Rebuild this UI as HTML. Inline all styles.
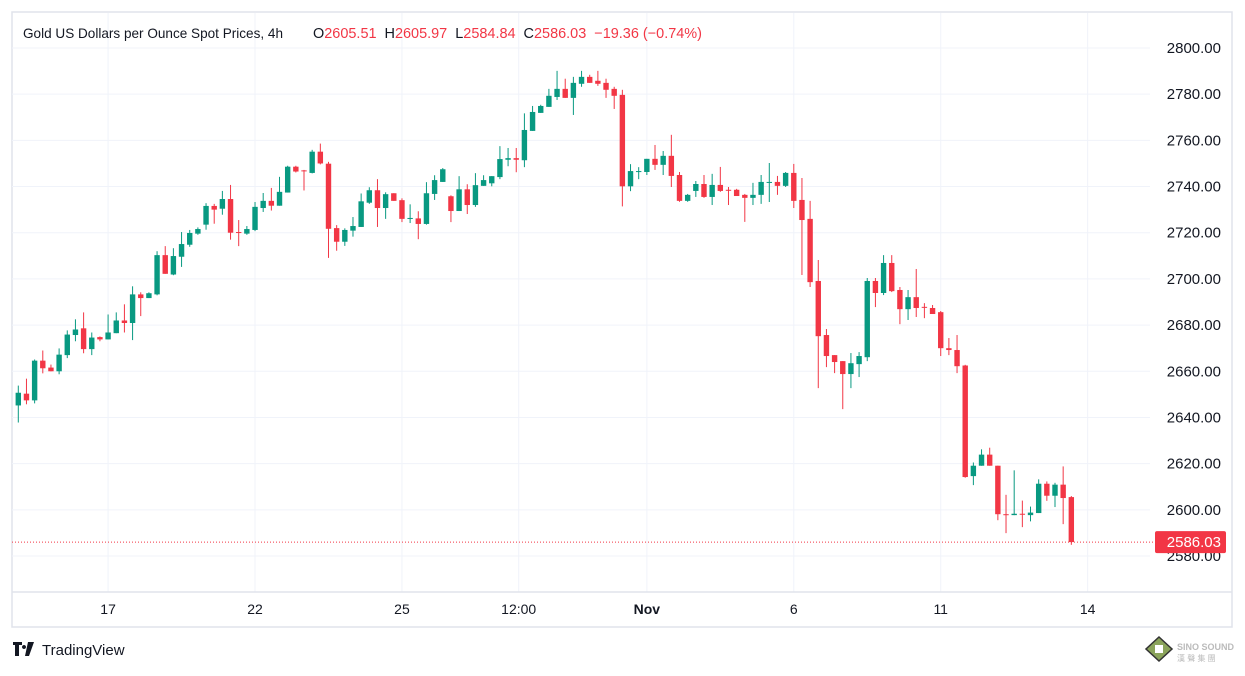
<!DOCTYPE html>
<html><head><meta charset="utf-8">
<style>
html,body{margin:0;padding:0;background:#fff;}
body{width:1245px;height:671px;overflow:hidden;font-family:"Liberation Sans",sans-serif;}
svg text{font-family:"Liberation Sans",sans-serif;}
</style></head>
<body>
<svg id="chart" width="1245" height="671" xmlns="http://www.w3.org/2000/svg">
  <rect x="12" y="12" width="1220" height="615" fill="#fff" stroke="#e0e3eb" stroke-width="1.5"/>
  <g id="grid"></g>
  <line x1="12" y1="592" x2="1232" y2="592" stroke="#e0e3eb" stroke-width="1.5"/>
  <g id="candles"></g>
  <g id="yaxis"></g>
  <g id="xaxis"></g>
  <text x="23" y="38" font-size="14" fill="#131722" textLength="260" lengthAdjust="spacingAndGlyphs">Gold US Dollars per Ounce Spot Prices, 4h</text>
  <text x="313" y="38" font-size="14.5" textLength="389" lengthAdjust="spacingAndGlyphs"><tspan fill="#131722">O</tspan><tspan fill="#f23645">2605.51</tspan><tspan fill="#131722" dx="8">H</tspan><tspan fill="#f23645">2605.97</tspan><tspan fill="#131722" dx="8">L</tspan><tspan fill="#f23645">2584.84</tspan><tspan fill="#131722" dx="8">C</tspan><tspan fill="#f23645">2586.03</tspan><tspan fill="#f23645" dx="8">−19.36 (−0.74%)</tspan></text>
  <g>
    <path d="M13 642h9v3h-3v11h-4v-11h-2z M24 645a2 2 0 1 0 0.01 0z M28 642h6l-5 14h-4z" fill="#131722"/>
    <text x="42" y="655" font-size="15" fill="#131722">TradingView</text>
  </g>
  <g>
    <polygon points="1159,637 1172,649 1159,661 1146,649" fill="#8aa35a" stroke="#333" stroke-width="1.5"/>
    <rect x="1155" y="645" width="8" height="8" fill="#fff"/>
    <text x="1177" y="650" font-size="9" font-weight="bold" fill="#bbb">SINO SOUND</text>
    <text x="1177" y="661" font-size="8" fill="#bbb" font-family="'Liberation Sans','Noto Sans CJK SC',sans-serif">漢 聲 集 團</text>
  </g>
</svg>
<script>
const opens=[2645.2,2650.3,2647.4,2664.6,2661.6,2660,2667,2675.7,2678.6,2669.6,2674.8,2673.8,2676.5,2682,2680.9,2693.3,2691.7,2693.3,2710.3,2701.9,2709.6,2714.8,2719.6,2723.5,2731.6,2730.4,2734.6,2720.3,2719.6,2721.2,2730.7,2733.8,2731.7,2737.4,2748.6,2747,2745.9,2755.1,2749.9,2722,2716.1,2720.9,2722.5,2733,2738.4,2730.7,2737.1,2734.1,2726.2,2726.2,2723.8,2736.8,2742,2735.8,2729.4,2738.8,2732,2740.3,2741.4,2744.1,2751.6,2752.3,2751.4,2764.1,2771.9,2774.5,2778.8,2782.3,2778.4,2784.5,2787.5,2785.8,2784.9,2782.3,2779.7,2740.1,2746.3,2746.3,2752,2749.4,2753.3,2745,2733.8,2738.1,2741.1,2735.5,2740.7,2738.6,2738.6,2736.4,2735.1,2736.4,2741.6,2742,2740.3,2745.9,2734.2,2726,2699.1,2675.7,2667,2664.4,2658.8,2663.1,2666.1,2699.1,2693.9,2706.9,2695.2,2686.9,2692.1,2687.9,2687.4,2685.6,2670,2669.2,2662.5,2614.6,2619.1,2623.9,2619.1,2598.1,2597.7,2598.3,2597.7,2598.6,2611.3,2606.1,2610.9,2605.51];
const highs=[2653.8,2656.8,2665.1,2669,2662.9,2669.9,2677.7,2682.5,2685.5,2676.8,2675.1,2684.6,2685.5,2689,2696.8,2694.2,2694.2,2712,2714.2,2713.3,2720.3,2721.2,2722.3,2732.8,2732.5,2738.1,2740.7,2725.5,2722.9,2733.3,2737.2,2739.4,2744.2,2749,2749,2747.2,2755.9,2758.6,2750.7,2723.3,2721.9,2726.8,2737,2739.7,2743.2,2737.5,2737.1,2734.9,2732.3,2729.3,2741.9,2744.9,2748,2736.2,2744.5,2741,2745.8,2744.9,2744.5,2757.5,2756.7,2756.7,2771.7,2774.9,2775.4,2782.3,2790.1,2786.7,2787.5,2790.1,2788.4,2790.1,2786.7,2783.2,2781.9,2749.7,2748.4,2752,2758,2755.4,2762.4,2746.3,2736.8,2742.4,2745,2745.5,2748.5,2739.8,2739,2736.8,2741.6,2745,2750.2,2744.6,2746.3,2749.8,2743.7,2733.8,2708.2,2678.3,2667,2664.4,2667.9,2668.3,2700.4,2700.4,2710.3,2710.3,2696.5,2695.2,2704.3,2689.5,2688.7,2686.1,2674.4,2675.7,2662.8,2620.5,2626.2,2626.9,2619.1,2606.5,2617.1,2604,2601.4,2613.2,2612.3,2611.7,2618.8,2605.97];
const lows=[2637.8,2645.7,2646.1,2659.1,2660,2658.7,2665.7,2673,2667.8,2667,2673,2673.8,2676.5,2676.8,2673.5,2683.9,2691.7,2692.9,2702.2,2701.6,2705.2,2713.9,2719.1,2721.3,2723.9,2727.8,2717,2714.2,2719.1,2720.7,2729,2729.6,2731.7,2737.4,2746.1,2738.3,2745.7,2749.6,2709.1,2712.2,2714.3,2718.3,2722.5,2732.5,2722.5,2726,2733.8,2724.6,2724.2,2717.2,2723.5,2734.2,2742,2724.6,2729.4,2728.1,2731.2,2740.3,2740.1,2743.2,2748.8,2746.2,2748.4,2764.1,2771.9,2774.5,2777.5,2778.4,2771,2783.2,2784.9,2783.6,2778.4,2773.6,2731.4,2738,2743.2,2745,2747.2,2745,2739.8,2733.4,2733.4,2735.5,2735.1,2732,2737.7,2732,2735.9,2724.7,2732,2732.5,2733.3,2736.4,2739.8,2730.7,2701.7,2696.5,2652.7,2661.8,2659.2,2643.6,2652.7,2657.5,2664.4,2687.8,2693,2694.3,2680.4,2682.2,2683.5,2683,2684.8,2666.6,2667,2659.2,2613.9,2610.7,2619.1,2619.1,2595.5,2589.9,2597.7,2592.5,2595,2598.6,2603.9,2601.2,2593.8,2584.84];
const closes=[2650.7,2647.4,2664.6,2661.3,2660,2667.2,2675.9,2678.1,2669.6,2674.6,2673.8,2676.8,2682,2680.9,2693.3,2691.7,2693.8,2710.3,2702.2,2709.9,2715.1,2719.9,2721.6,2731.6,2730,2734.6,2720,2720.1,2721.6,2731.2,2733.8,2731.7,2737.7,2748.6,2746.5,2746.8,2755.1,2750,2721.7,2716.1,2721.2,2722.9,2733.6,2738.4,2730.7,2736.7,2733.8,2726,2726.4,2723.8,2737.1,2742.8,2747.5,2729.4,2738.8,2732,2740.6,2742.8,2744.5,2751.9,2752.3,2751.6,2764.5,2772.3,2774.9,2779.3,2782.3,2778.4,2784.9,2787.5,2784.9,2784.5,2781.9,2779.3,2740.1,2746.7,2746.7,2752,2749.4,2753.3,2744.6,2733.8,2736.4,2741.1,2735.5,2740.7,2738.1,2738.4,2735.9,2735.1,2736.4,2742,2742,2740.3,2745.9,2733.8,2725.5,2698.6,2675.2,2666.6,2664,2658.8,2663.5,2666.6,2699.1,2693.9,2706.9,2694.7,2686.9,2692.1,2687.4,2687.7,2684.8,2670,2669.2,2662.2,2614.2,2619.1,2623.9,2619.1,2598.1,2597.7,2598.3,2598.1,2598.8,2611.3,2606.1,2610.9,2605.1,2586.03];
const priceTicks=[2580,2600,2620,2640,2660,2680,2700,2720,2740,2760,2780,2800];
const timeLabels=["17","22","25","12:00","Nov","6","11","14"];
const timeLabelIdx=[11,29,47,61.3,77,95,113,131];
const lastPrice=2586.03;

const NS="http://www.w3.org/2000/svg";
const yScale=p=>48+(2800-p)*(508/220);
const xScale=i=>18.3+i*8.163;
function mk(tag,attrs,parent){const e=document.createElementNS(NS,tag);for(const k in attrs)e.setAttribute(k,attrs[k]);parent.appendChild(e);return e;}
const grid=document.getElementById('grid'),cg=document.getElementById('candles'),ya=document.getElementById('yaxis'),xa=document.getElementById('xaxis');
priceTicks.forEach(p=>{
  const y=yScale(p);
  const l=mk('line',{x1:12,x2:1150,y1:y,y2:y,stroke:'#f0f3fa','stroke-width':1},grid);
  
  
  const t=mk('text',{x:1221,y:y+5,'text-anchor':'end','font-size':15,fill:'#131722'},ya);
  t.textContent=p.toFixed(2);
  
  
});
timeLabels.forEach((s,k)=>{
  const x=xScale(timeLabelIdx[k]);
  const l=mk('line',{x1:x,x2:x,y1:13,y2:592,stroke:'#f0f3fa','stroke-width':1},grid);
  
  
  const t=mk('text',{x:x,y:614,'text-anchor':'middle','font-size':14,fill:'#131722','font-weight':s==='Nov'?'bold':'normal'},xa);
  t.textContent=s;
  
  
});
opens.forEach((o,i)=>{
  const c=closes[i],up=c>=o,col=up?'#089981':'#f23645',x=xScale(i);
  const g=mk('g',{},cg);
  
  
  mk('line',{x1:x,x2:x,y1:yScale(highs[i]),y2:yScale(lows[i]),stroke:col,'stroke-width':1},g);
  const top=yScale(Math.max(o,c)),h=Math.max(1,Math.abs(yScale(o)-yScale(c)));
  mk('rect',{x:x-2.7,y:top,width:5.4,height:h,fill:col},g);
});
const ly=yScale(lastPrice);
const pl=mk('line',{x1:12,x2:1155,y1:ly,y2:ly,stroke:'#f23645','stroke-width':1,'stroke-dasharray':'1,2'},cg);


const pr=mk('rect',{x:1155,y:ly-11,width:71,height:22,rx:2,fill:'#f23645'},ya);


const pt=mk('text',{x:1221,y:ly+5,'text-anchor':'end','font-size':15,fill:'#fff'},ya);
pt.textContent=lastPrice.toFixed(2);


</script>
</body></html>
